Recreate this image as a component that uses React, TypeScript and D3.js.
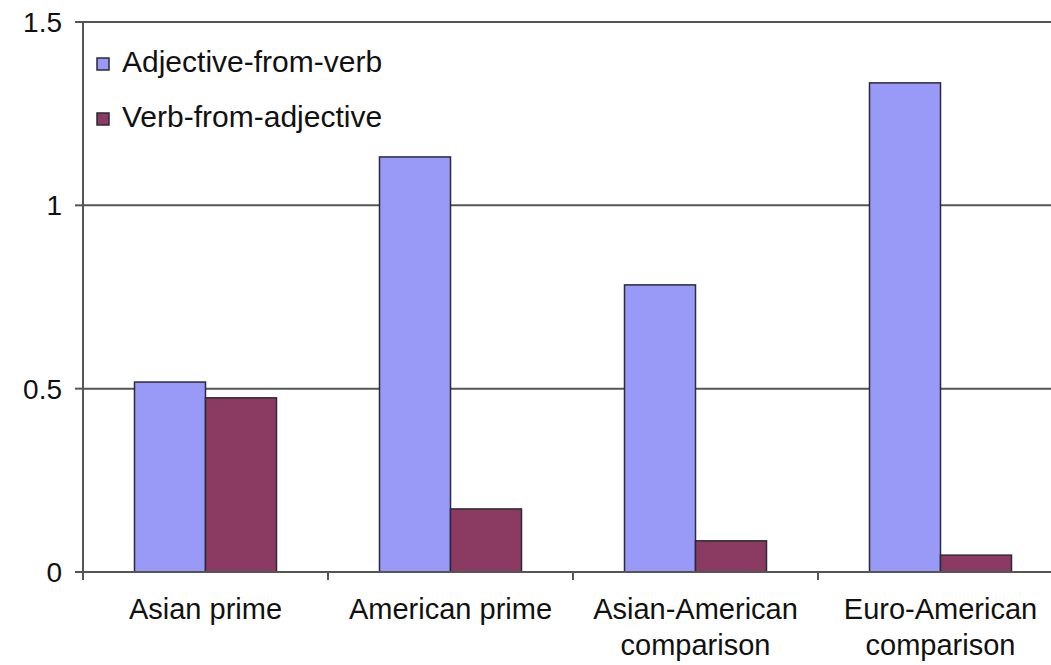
import * as d3 from "d3";

const categories = [
  ["Asian prime"],
  ["American prime"],
  ["Asian-American", "comparison"],
  ["Euro-American", "comparison"],
];
const seriesNames = ["Adjective-from-verb", "Verb-from-adjective"];
const adjFromVerb = [0.518, 1.132, 0.783, 1.334];
const verbFromAdj = [0.475, 0.172, 0.085, 0.046];
const yTicks = [0, 0.5, 1, 1.5];
const yTickLabels = ["0", "0.5", "1", "1.5"];

const colors = ["#9999f7", "#8b3a62"];

export default function App() {
  const width = 1051;
  const height = 665;
  const left = 83;
  const top = 22;
  const bottom = 572;
  const bandW = 245;

  const x = d3
    .scaleBand<number>()
    .domain(d3.range(categories.length))
    .range([left, left + bandW * categories.length])
    .paddingInner(0)
    .paddingOuter(0);
  const y = d3.scaleLinear().domain([0, 1.5]).range([bottom, top]);

  const series = [adjFromVerb, verbFromAdj];
  const barW = 71;
  const font = "'Liberation Sans', Arial, sans-serif";

  return (
    <svg
      width={width}
      height={height}
      style={{ position: "absolute", left: 0, top: 0, background: "#fff" }}
      fontFamily={font}
    >
      {/* gridlines */}
      {yTicks.map((t) => (
        <g key={t}>
          {t > 0 && (
            <line x1={left} x2={width} y1={y(t)} y2={y(t)} stroke="#555" strokeWidth={2} />
          )}
          <line x1={left - 8} x2={left} y1={y(t)} y2={y(t)} stroke="#555" strokeWidth={2} />
        </g>
      ))}
      {yTicks.map((t, i) => (
        <text key={"l" + t} x={62} y={y(t)} dy="0.36em" textAnchor="end" fontSize={28} fill="#111">
          {yTickLabels[i]}
        </text>
      ))}

      {/* bars */}
      {categories.map((c, i) => {
        const cx = (x(i) as number) + x.bandwidth() / 2;
        return series.map((s, j) => (
          <rect
            key={i + "-" + j}
            x={cx - barW + j * barW}
            y={y(s[i])}
            width={barW}
            height={y(0) - y(s[i])}
            fill={colors[j]}
            stroke="#2a2a3a"
            strokeWidth={1.5}
          />
        ));
      })}

      {/* axes */}
      <line x1={left} x2={left} y1={top} y2={bottom + 8} stroke="#555" strokeWidth={2} />
      <line x1={left - 8} x2={width} y1={bottom} y2={bottom} stroke="#555" strokeWidth={2} />
      {d3.range(1, categories.length).map((i) => (
        <line
          key={"xt" + i}
          x1={x(i) as number}
          x2={x(i) as number}
          y1={bottom}
          y2={bottom + 8}
          stroke="#555"
          strokeWidth={2}
        />
      ))}

      {/* category labels */}
      {categories.map((c, i) => {
        const cx = (x(i) as number) + x.bandwidth() / 2;
        return (
          <text key={"c" + i} x={cx} y={619} textAnchor="middle" fontSize={29} fill="#111">
            {c.map((line, k) => (
              <tspan key={k} x={cx} dy={k === 0 ? 0 : 36}>
                {line}
              </tspan>
            ))}
          </text>
        );
      })}

      {/* legend */}
      {seriesNames.map((n, j) => (
        <g key={n} transform={`translate(97, ${58 + j * 55})`}>
          <rect width={12} height={12} fill={colors[j]} stroke="#2a2a3a" strokeWidth={1.5} />
          <text x={25} y={14} fontSize={30} fill="#111">
            {n}
          </text>
        </g>
      ))}
    </svg>
  );
}
